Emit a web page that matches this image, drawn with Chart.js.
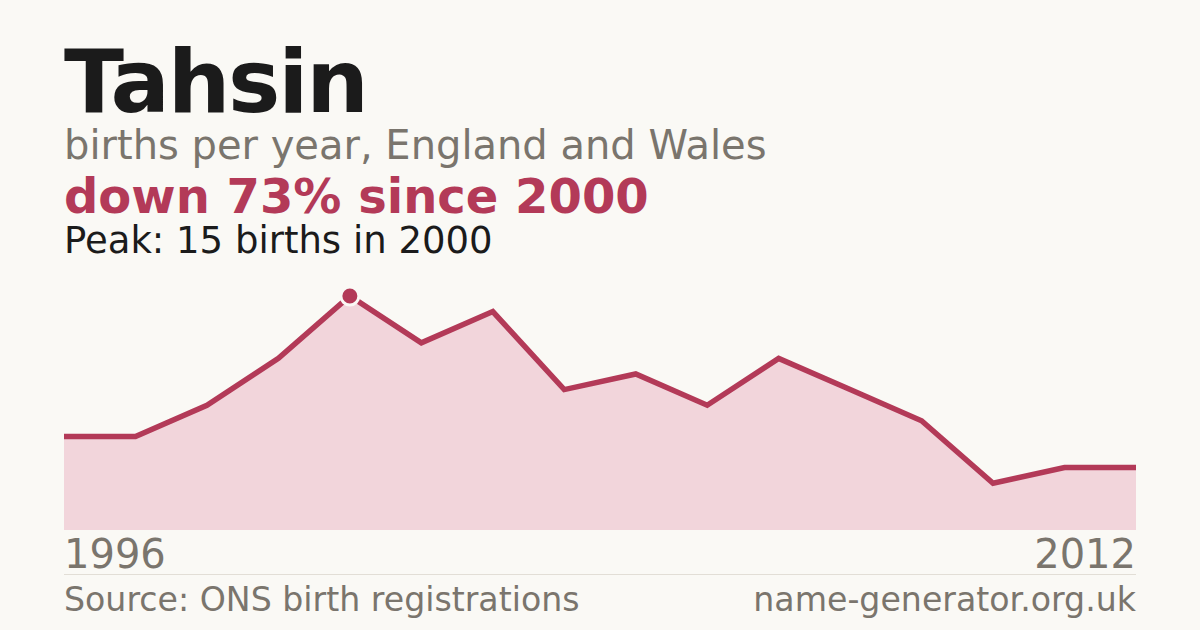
<!DOCTYPE html>
<html>
<head>
<meta charset="utf-8">
<script src="https://cdn.jsdelivr.net/npm/chart.js@4"></script>
<style>
  html, body { margin: 0; padding: 0; }
  body {
    width: 1200px; height: 630px; overflow: hidden;
    background: #faf9f5;
    font-family: "DejaVu Sans", sans-serif;
    position: relative;
  }
  .t { position: absolute; left: 64px; white-space: nowrap; line-height: 1; }
  #title { top: 38px; font-size: 88px; font-weight: bold; color: #1b1b1b; letter-spacing: -2.2px; }
  #sub { top: 125px; font-size: 40px; color: #7a756d; }
  #change { top: 172px; font-size: 48px; font-weight: bold; color: #b33a58; }
  #peak { top: 222px; font-size: 37px; color: #1b1b1b; }
  #chartBox { position: absolute; left: 64px; top: 270px; width: 1072px; height: 260px; }
  .year { position: absolute; top: 534px; font-size: 40px; color: #7a756d; line-height: 1; }
  #rule { position: absolute; left: 64px; top: 574px; width: 1072px; height: 1px; background: #e2ded6; }
  .foot { position: absolute; top: 583px; font-size: 33.2px; color: #7a756d; line-height: 1; white-space: nowrap; }
</style>
</head>
<body>
<div class="t" id="title"></div>
<div class="t" id="sub"></div>
<div class="t" id="change"></div>
<div class="t" id="peak"></div>
<div id="chartBox"><canvas id="nameChart"></canvas></div>
<div class="year" id="yearFirst" style="left:64px"></div>
<div class="year" id="yearLast" style="right:64px"></div>
<div id="rule"></div>
<div class="foot" id="source" style="left:64px"></div>
<div class="foot" id="site" style="right:64px"></div>

<script>
// 16 evenly spaced points between the first and last labelled year
const years = ['1996', '1997', '1998', '1999', '2000', '2001', '2002', '2003',
  '2004', '2005', '2006', '2007', '2008', '2009', '2011', '2012'];
const births = [6, 6, 8, 11, 15, 12, 14, 9, 10, 8, 11, 9, 7, 3, 4, 4];
const tickLabels = ['1996', '2012'];

const nameText = 'Tahsin';
const subtitle = 'births per year, England and Wales';
const changeText = 'down 73% since 2000';
const peakText = 'Peak: 15 births in 2000';
const sourceText = 'Source: ONS birth registrations';
const siteText = 'name-generator.org.uk';

const red = '#b33a58';

document.getElementById('title').textContent = nameText;
document.getElementById('sub').textContent = subtitle;
document.getElementById('change').textContent = changeText;
document.getElementById('peak').textContent = peakText;
document.getElementById('yearFirst').textContent = tickLabels[0];
document.getElementById('yearLast').textContent = tickLabels[1];
document.getElementById('source').textContent = sourceText;
document.getElementById('site').textContent = siteText;

// only the peak year gets a marker
const peakIdx = births.indexOf(Math.max(...births));
const radii = births.map((v, i) => (i === peakIdx ? 9 : 0));

new Chart(document.getElementById('nameChart'), {
  type: 'line',
  data: {
    labels: years,
    datasets: [{
      data: births,
      borderColor: red,
      borderWidth: 5.5,
      backgroundColor: '#f2d5db',
      fill: 'origin',
      tension: 0,
      pointRadius: radii,
      pointHoverRadius: radii,
      pointBackgroundColor: red,
      pointBorderColor: '#faf9f5',
      pointBorderWidth: 3,
      clip: false,
    }]
  },
  options: {
    responsive: true,
    maintainAspectRatio: false,
    animation: false,
    layout: { padding: { top: 26, left: 0, right: 0, bottom: 0 } },
    plugins: { legend: { display: false }, tooltip: { enabled: false } },
    scales: {
      x: { display: false, offset: false },
      y: { display: false, min: 0, max: 15 }
    }
  }
});
</script>
</body>
</html>
